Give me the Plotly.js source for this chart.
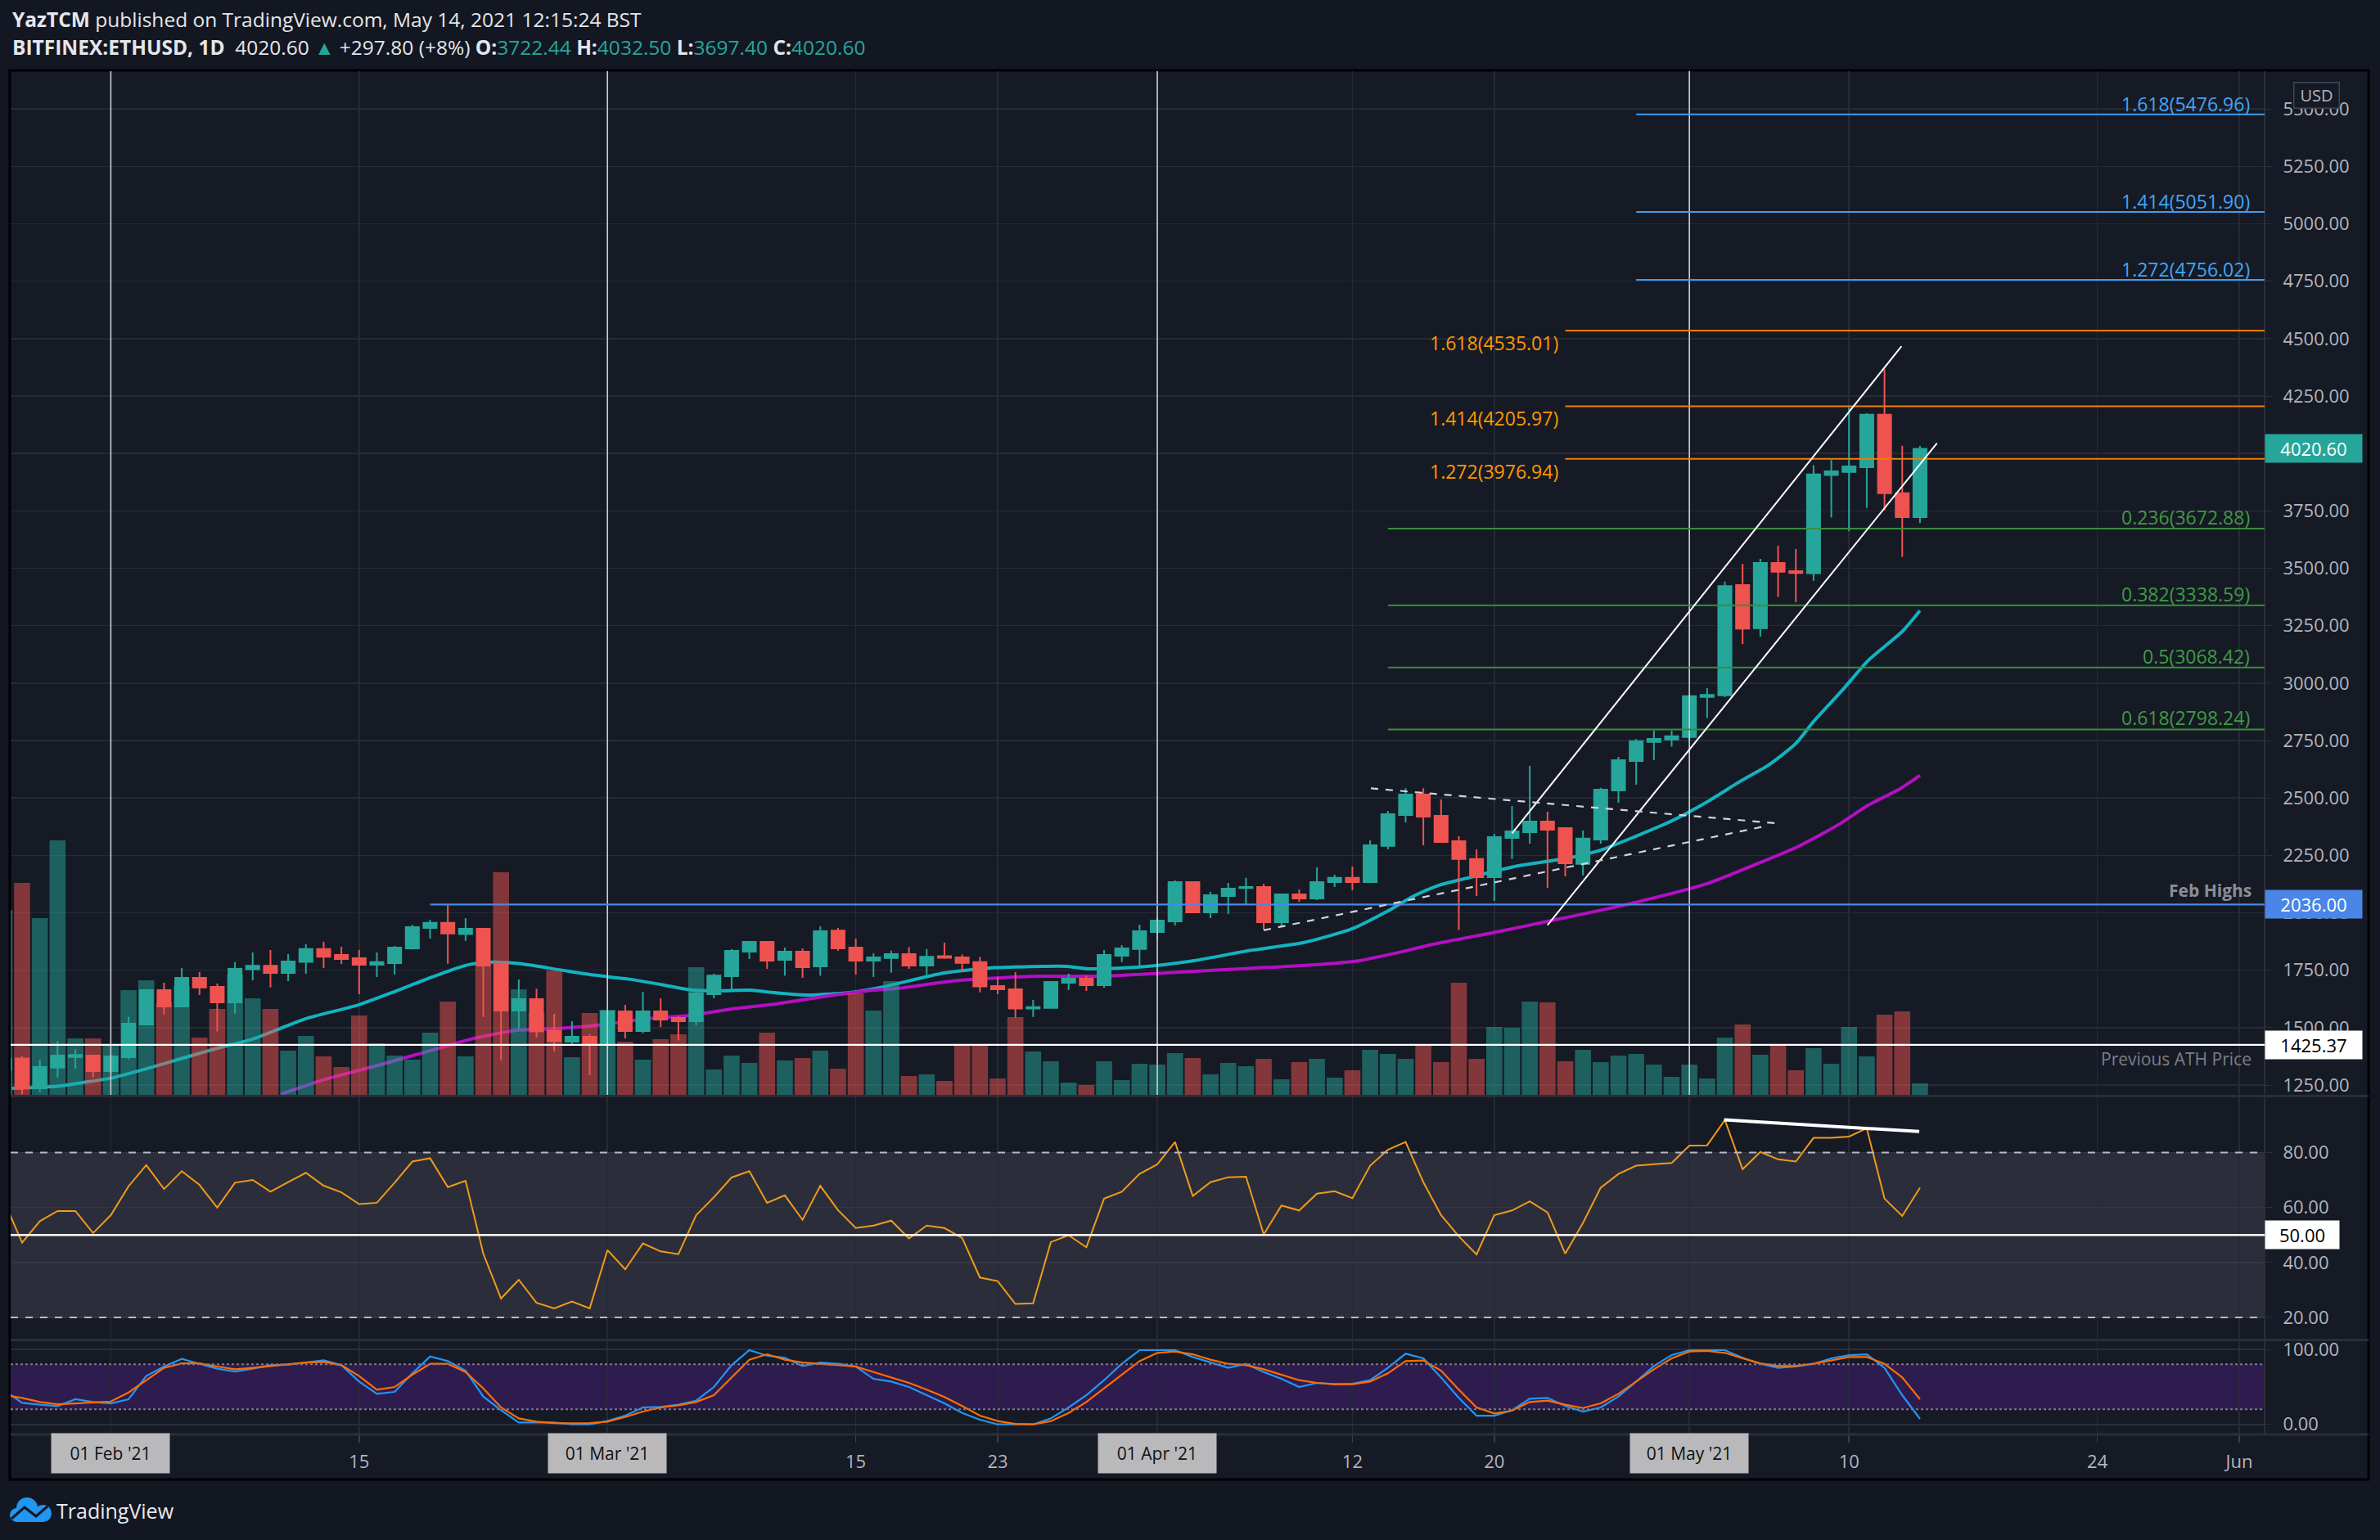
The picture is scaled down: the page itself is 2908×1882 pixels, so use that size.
<!DOCTYPE html>
<html><head><meta charset="utf-8">
<script src="https://cdn.plot.ly/plotly-3.0.1.min.js"></script>
<style>html,body{margin:0;padding:0;background:#131722;}#chart{width:2908px;height:1882px;}</style>
</head><body><div id="chart"></div>
<script>
// ---------------- DATA ----------------
// daily candles, first candle = 2021-01-26, one per day up to 2021-05-14
const firstDay = [2021, 0, 26];
const opens = [1316,1366,1236,1326,1372,1378,1311,1371,1514,1663,1592,1717,1678,1610,1754,1769,1738,1786,1842,1817,1802,1774,1781,1845,1934,1956,
1907,1931,1774,1574,1624,1485,1439,1460,1428,1571,1485,1571,1542,1528,1646,1724,1831,1874,1795,1831,1767,1923,1849,1792,1803,
1820,1770,1811,1806,1785,1681,1667,1583,1586,1695,1713,1685,1813,1842,1916,1963,2134,2002,2073,2108,2112,1959,2080,2062,2134,2152,2134,2291,2426,2515,2422,
2312,2234,2155,2326,2351,2397,2369,2213,2319,2533,2661,2744,2755,2765,2940,2947,3427,3239,3523,3488,3479,3906,3920,3940,4169,3827,3722.44];
const highs = [1380,1375,1360,1441,1406,1382,1380,1548,1667,1695,1760,1742,1692,1785,1827,1838,1820,1863,1874,1852,1838,1827,1856,1948,1970,2036,
1977,1934,1779,1710,1670,1560,1528,1471,1575,1599,1656,1628,1549,1670,1735,1842,1878,1877,1849,1845,1941,1934,1888,1824,1835,
1850,1842,1870,1818,1809,1720,1742,1621,1703,1735,1727,1838,1859,1948,1981,2141,2137,2091,2130,2152,2127,2084,2102,2198,2166,2201,2315,2444,2543,2543,2494,
2333,2276,2344,2465,2640,2440,2372,2358,2544,2679,2757,2794,2794,2950,2978,3442,3520,3541,3598,3584,3949,3971,4200,4175,4367,4034,4032.50];
const lows = [1255,1210,1220,1283,1322,1283,1300,1362,1510,1557,1589,1642,1483,1561,1706,1675,1703,1735,1760,1777,1646,1720,1731,1840,1888,1778,
1878,1547,1358,1497,1458,1397,1429,1293,1414,1453,1475,1503,1444,1511,1628,1667,1799,1756,1727,1717,1727,1834,1731,1720,1739,
1756,1731,1800,1743,1654,1646,1543,1547,1583,1663,1660,1674,1785,1770,1884,1945,1998,1977,1995,2038,1927,1945,2048,2055,2112,2098,2130,2276,2394,2294,2305,
1925,2073,2052,2234,2301,2109,2159,2162,2301,2479,2558,2665,2723,2748,2848,2940,3170,3203,3375,3353,3446,3721,3661,3764,3752,3550,3697.40];
const closes = [1366,1236,1328,1378,1381,1311,1375,1517,1663,1592,1717,1675,1610,1756,1769,1738,1788,1842,1809,1799,1774,1785,1849,1938,1956,1910,
1931,1770,1574,1624,1483,1442,1460,1428,1571,1485,1571,1535,1528,1649,1727,1834,1874,1792,1831,1763,1920,1845,1792,1806,1820,
1770,1809,1804,1782,1679,1667,1583,1589,1699,1713,1685,1817,1845,1920,1966,2134,2002,2077,2105,2112,1959,2080,2062,2134,2152,2134,2294,2429,2515,2419,2308,
2234,2155,2330,2355,2397,2362,2216,2323,2536,2665,2747,2757,2769,2943,2949,3423,3237,3523,3485,3480,3909,3922,3944,4169,3827,3722.44,4020.60];
const volumes = [226,259,216,311,69,69,62,128,140,113,133,70,105,147,118,105,54,72,47,34,97,63,48,43,76,114,
47,160,272,129,100,152,46,100,104,65,43,68,74,156,31,48,39,76,42,45,54,32,124,103,139,
23,25,17,62,62,20,95,53,41,15,12,41,18,38,37,51,45,25,39,35,44,19,40,44,21,30,55,50,44,60,40,
137,44,83,82,114,113,41,55,40,48,50,37,22,37,20,70,86,49,60,30,57,38,83,47,98,102,14];
const rsi = [62,47.2,55.0,58.7,58.7,50.7,57.2,67.7,75.4,66.7,73.2,68.2,59.9,69.0,70.0,65.7,69.2,72.6,67.9,65.5,61.2,61.7,69.0,76.7,77.9,67.4,
69.7,43.2,26.9,33.7,25.3,23.3,25.8,23.3,44.5,37.5,46.9,44.0,43.0,57.2,63.7,70.9,73.2,61.7,64.4,55.5,67.9,59.0,52.5,53.4,55.2,
48.7,53.4,52.5,48.9,34.5,33.2,24.9,25.1,47.4,49.9,45.5,63.2,65.7,72.2,75.7,83.8,64.2,69.2,71.0,71.2,50.2,60.7,58.9,65.0,65.9,63.4,75.2,81.0,83.8,69.2,57.2,
49.5,42.9,57.2,58.9,62.2,58.2,43.2,54.4,67.2,72.2,75.2,75.7,76.2,82.5,82.6,91.8,73.9,80.2,77.5,76.7,85.3,85.3,85.8,88.8,63.2,56.9,67.2];
const stochK = [45,28.7,26.2,24.4,33.5,29.8,28.0,33.5,64.4,77.1,87.3,80.7,74.2,70.5,74.2,78.9,79.6,82.5,85.4,78.9,57.1,40.7,43.3,68.0,90.5,84.3,
71.6,37.1,18.9,2.6,2.6,2.6,0,0,4.4,11.6,22.6,23.3,26.2,31.6,49.8,78.9,98.9,91.6,88.7,77.8,82.5,80.7,77.1,60.7,57.1,
49.8,38.9,28.0,15.3,6.2,0,0,0,8,22.6,38.9,58.9,80.7,98.9,98.9,98.9,89.8,82.5,75.3,80.7,69.8,60.7,49.8,55.3,53.5,54.2,58.9,75.3,94.2,88.0,62.5,
35.3,11.6,11.6,18.9,34.2,35.3,24.4,17.1,22.6,37.1,57.1,77.8,92.3,98.9,98.9,98.9,88.7,80.7,75.3,77.1,80.7,88.0,92.3,93.4,75.3,38.9,7.3];
const stochD = [39,35.3,29.8,26.9,28.0,29.1,30.5,42.5,58.9,75.3,81.4,81.4,77.1,73.4,75.3,77.8,80.7,82.5,83.2,78.9,64.4,46.2,49.8,66.2,80.7,80.7,
69.8,48.0,22.6,8.0,3.6,1.8,1.5,1.8,3.6,9.8,17.1,22.6,25.5,29.8,38.9,62.5,86.2,93.4,86.2,82.5,80.7,78.9,77.1,69.8,62.5,
55.3,46.2,36.4,24.4,11.6,4.4,0.7,0,4.4,15.3,29.8,48.0,66.2,84.3,95.3,97.1,93.4,86.2,80.7,78.9,73.4,66.2,58.9,55.3,53.5,53.5,57.1,68.0,84.3,85.1,71.6,
46.2,22.6,14.6,18.2,29.8,31.6,26.2,21.8,28.0,40.7,57.1,73.4,88.0,97.1,97.8,95.3,88.0,81.4,77.8,77.8,80.7,85.1,89.8,89.8,80.7,62.5,33.5];

// moving averages (read at sample points)
const maFastDates = ['2021-01-26 10:00','2021-01-29','2021-01-30 12:00','2021-02-01','2021-02-03','2021-02-05','2021-02-07','2021-02-09','2021-02-10 14:00','2021-02-12','2021-02-15','2021-02-17','2021-02-19','2021-02-20 14:00','2021-02-21 07:00','2021-02-22 12:00','2021-02-24','2021-02-26 07:00','2021-02-28 05:00','2021-03-02 05:00','2021-03-04 05:00','2021-03-05 19:00','2021-03-07 12:00','2021-03-09','2021-03-10 14:00','2021-03-12 07:00','2021-03-14 18:00','2021-03-16 14:00','2021-03-19 22:00','2021-03-22 19:00','2021-03-26 22:00','2021-03-28 02:00','2021-03-31','2021-04-03 02:00','2021-04-06 05:00','2021-04-09 07:00','2021-04-12','2021-04-14','2021-04-15 11:00','2021-04-16 22:00','2021-04-18 10:00','2021-04-21 07:00','2021-04-24 05:00','2021-04-26 02:00','2021-04-28','2021-04-29 22:00','2021-05-02','2021-05-03 22:00','2021-05-05 10:00','2021-05-07','2021-05-08','2021-05-09 14:00','2021-05-11 02:00','2021-05-13','2021-05-14'];
const maFastVals = [1236,1245,1262,1280,1321,1366,1410,1450,1497,1539,1600,1657,1717,1761,1776,1785,1779,1752,1729,1711,1685,1663,1661,1663,1651,1642,1654,1678,1737,1761,1767,1756,1764,1792,1836,1871,1931,2008,2073,2121,2150,2204,2239,2275,2334,2397,2483,2575,2641,2737,2833,2966,3099,3225,3316];
const maSlowDates = ['2021-02-10 14:00','2021-02-12 22:00','2021-02-16 05:00','2021-02-19 16:00','2021-02-21 07:00','2021-02-23 19:00','2021-02-26 07:00','2021-02-28 17:00','2021-03-03 05:00','2021-03-05 17:00','2021-03-08 04:00','2021-03-10 14:00','2021-03-13 02:00','2021-03-15 14:00','2021-03-17 12:00','2021-03-20 17:00','2021-03-24 19:00','2021-03-28 23:00','2021-04-02 02:00','2021-04-06 05:00','2021-04-10 07:00','2021-04-12 10:00','2021-04-14 10:00','2021-04-16 12:00','2021-04-20 07:00','2021-04-23 05:00','2021-04-25 02:00','2021-04-28','2021-05-02','2021-05-04 17:00','2021-05-07 02:00','2021-05-09 12:00','2021-05-11','2021-05-12 22:00','2021-05-14'];
const maSlowVals = [1210,1271,1339,1414,1450,1488,1497,1513,1539,1554,1583,1604,1634,1660,1672,1705,1723,1725,1741,1758,1776,1792,1824,1862,1919,1966,1996,2046,2127,2210,2287,2388,2465,2542,2598];

// drawings
const blueFibRatios = ['1.618','1.414','1.272'];
const blueFibLevels = [5476.96,5051.90,4756.02];
const blueFibStart = '2021-04-28';
const orangeFibRatios = ['1.618','1.414','1.272'];
const orangeFibLevels = [4535.01,4205.97,3976.94];
const orangeFibStart = '2021-04-24';
const greenFibRatios = ['0.236','0.382','0.5','0.618'];
const greenFibLevels = [3672.88,3338.59,3068.42,2798.24];
const greenFibStart = '2021-04-14';
const febHigh = 2036.00, febHighStart = '2021-02-19';
const prevATH = 1425.37;
const lastPrice = 4020.60;
const monthLines = ['2021-02-01','2021-03-01','2021-04-01','2021-05-01'];
const monthLabels = ["01 Feb '21","01 Mar '21","01 Apr '21","01 May '21"];
const channelUpperX = ['2021-04-21','2021-05-12 23:00'], channelUpperY = [2346,4467];
const channelLowerX = ['2021-04-23','2021-05-14 23:00'], channelLowerY = [1946,4045];
const triUpperX = ['2021-04-13 01:00','2021-05-05 22:00'], triUpperY = [2542,2390];
const triLowerX = ['2021-04-07','2021-05-05 11:00'], triLowerY = [1924,2380];
const rsiDivX = ['2021-05-02 23:00','2021-05-13 23:00'], rsiDivY = [91.9,87.6];
const priceTicks = [1250,1500,1750,2000,2250,2500,2750,3000,3250,3500,3750,4000,4250,4500,4750,5000,5250,5500];
const dateTickVals = ['2021-02-01','2021-02-15','2021-03-01','2021-03-15','2021-03-23','2021-04-01','2021-04-12','2021-04-20','2021-05-01','2021-05-10','2021-05-24','2021-06-01'];
const dateTickText = ['','15','','15','23','','12','20','','10','24','Jun'];

// ---------------- BUILD ----------------
const dates = opens.map((_, i) => new Date(Date.UTC(firstDay[0], firstDay[1], firstDay[2] + i)).toISOString().slice(0, 10));
const UP = '#26a69a', DN = '#ef5350';
const L = 13, R = 2767, T = 87, B = 1753;
const px = x => (x - L) / (R - L);
const py = y => (B - y) / (B - T);
const xStart = '2021-01-26 08:27', xEnd = '2021-06-02 10:19';
const FONT = 'Open Sans, Noto Sans, sans-serif';

const traces = [
  {type:'scatter', mode:'lines', x:maFastDates, y:maFastVals, xaxis:'x', yaxis:'y', line:{color:'#12b3c0', width:4, shape:'spline', smoothing:0.6}, hoverinfo:'skip'},
  {type:'scatter', mode:'lines', x:maSlowDates, y:maSlowVals, xaxis:'x', yaxis:'y', line:{color:'#b30fc3', width:4, shape:'spline', smoothing:0.6}, hoverinfo:'skip'},
  {type:'bar', x:dates, y:volumes, xaxis:'x', yaxis:'y2',
   marker:{color:closes.map((c,i)=> c>=opens[i] ? 'rgba(38,166,154,0.5)' : 'rgba(239,83,80,0.5)'), line:{width:0}}, hoverinfo:'skip'},
  {type:'candlestick', x:dates, open:opens, high:highs, low:lows, close:closes, xaxis:'x', yaxis:'y3',
   increasing:{line:{color:UP, width:2}, fillcolor:UP}, decreasing:{line:{color:DN, width:2}, fillcolor:DN},
   whiskerwidth:0, hoverinfo:'skip'},
  {type:'scatter', mode:'lines', x:dates, y:rsi, xaxis:'x', yaxis:'y4', line:{color:'#f09a1b', width:2}, hoverinfo:'skip'},
  {type:'scatter', mode:'lines', x:dates, y:stochK, xaxis:'x', yaxis:'y5', line:{color:'#2196f3', width:2.2}, hoverinfo:'skip'},
  {type:'scatter', mode:'lines', x:dates, y:stochD, xaxis:'x', yaxis:'y5', line:{color:'#ff6d00', width:2.2}, hoverinfo:'skip'}
];

const shapes = [];
// chart frame
shapes.push({type:'rect', xref:'paper', yref:'paper', x0:px(12), x1:px(2894), y0:py(1808), y1:py(86), fillcolor:'#161a25', line:{color:'#000000', width:3}, layer:'below'});
// pane bands
shapes.push({type:'rect', xref:'paper', yref:'y4', x0:0, x1:1, y0:20, y1:80, fillcolor:'#2b2e3a', line:{width:0}, layer:'below'});
shapes.push({type:'rect', xref:'paper', yref:'y5', x0:0, x1:1, y0:20, y1:80, fillcolor:'#2e1c4e', line:{width:0}, layer:'below'});
// separators
[1339.5, 1637.5, 1753].forEach(y => shapes.push({type:'line', xref:'paper', yref:'paper', x0:0, x1:px(2894), y0:py(y), y1:py(y), line:{color:'#2a2e39', width:3}, layer:'above'}));
shapes.push({type:'line', xref:'paper', yref:'paper', x0:1, x1:1, y0:0, y1:1, line:{color:'#2a2e39', width:2}, layer:'above'});
// RSI levels
shapes.push({type:'line', xref:'paper', yref:'y4', x0:0, x1:1, y0:80, y1:80, line:{color:'#b8bbc4', width:2, dash:'dash'}, layer:'above'});
shapes.push({type:'line', xref:'paper', yref:'y4', x0:0, x1:1, y0:20, y1:20, line:{color:'#b8bbc4', width:2, dash:'dash'}, layer:'above'});
shapes.push({type:'line', xref:'paper', yref:'y4', x0:0, x1:1, y0:50, y1:50, line:{color:'#ffffff', width:2.5}, layer:'above'});
shapes.push({type:'line', xref:'x', yref:'y4', x0:rsiDivX[0], x1:rsiDivX[1], y0:rsiDivY[0], y1:rsiDivY[1], line:{color:'#ffffff', width:4}, layer:'above'});
// Stoch levels
shapes.push({type:'line', xref:'paper', yref:'y5', x0:0, x1:1, y0:80, y1:80, line:{color:'#7f7891', width:2, dash:'dot'}, layer:'above'});
shapes.push({type:'line', xref:'paper', yref:'y5', x0:0, x1:1, y0:20, y1:20, line:{color:'#7f7891', width:2, dash:'dot'}, layer:'above'});
// month vertical lines (main pane)
monthLines.forEach(d => shapes.push({type:'line', xref:'x', yref:'paper', x0:d, x1:d, y0:py(1338), y1:1, line:{color:'#c9ccd3', width:1.6}, layer:'above'}));
// fib lines
blueFibLevels.forEach(v => shapes.push({type:'line', xref:'x', yref:'y', x0:blueFibStart, x1:xEnd, y0:v, y1:v, line:{color:'#3d9ff0', width:2}, layer:'above'}));
orangeFibLevels.forEach(v => shapes.push({type:'line', xref:'x', yref:'y', x0:orangeFibStart, x1:xEnd, y0:v, y1:v, line:{color:'#f57c00', width:2}, layer:'above'}));
greenFibLevels.forEach(v => shapes.push({type:'line', xref:'x', yref:'y', x0:greenFibStart, x1:xEnd, y0:v, y1:v, line:{color:'#388e3c', width:2}, layer:'above'}));
shapes.push({type:'line', xref:'x', yref:'y', x0:febHighStart, x1:xEnd, y0:febHigh, y1:febHigh, line:{color:'#4a86e8', width:2.2}, layer:'above'});
shapes.push({type:'line', xref:'paper', yref:'y', x0:0, x1:1, y0:prevATH, y1:prevATH, line:{color:'#ffffff', width:2.2}, layer:'above'});
// trend lines
shapes.push({type:'line', xref:'x', yref:'y', x0:channelUpperX[0], x1:channelUpperX[1], y0:channelUpperY[0], y1:channelUpperY[1], line:{color:'#ffffff', width:2}, layer:'above'});
shapes.push({type:'line', xref:'x', yref:'y', x0:channelLowerX[0], x1:channelLowerX[1], y0:channelLowerY[0], y1:channelLowerY[1], line:{color:'#ffffff', width:2}, layer:'above'});
shapes.push({type:'line', xref:'x', yref:'y', x0:triUpperX[0], x1:triUpperX[1], y0:triUpperY[0], y1:triUpperY[1], line:{color:'#d1d4dc', width:2.2, dash:'dash'}, layer:'above'});
shapes.push({type:'line', xref:'x', yref:'y', x0:triLowerX[0], x1:triLowerX[1], y0:triLowerY[0], y1:triLowerY[1], line:{color:'#d1d4dc', width:2.2, dash:'dash'}, layer:'above'});
// TradingView logo cloud
const logoBlue = '#2196f3';
shapes.push({type:'circle', xref:'paper', yref:'paper', x0:px(20), x1:px(46), y0:py(1856), y1:py(1830), fillcolor:logoBlue, line:{width:0}, layer:'above'});
shapes.push({type:'circle', xref:'paper', yref:'paper', x0:px(42), x1:px(63), y0:py(1860), y1:py(1839), fillcolor:logoBlue, line:{width:0}, layer:'above'});
shapes.push({type:'circle', xref:'paper', yref:'paper', x0:px(12), x1:px(29), y0:py(1860), y1:py(1843), fillcolor:logoBlue, line:{width:0}, layer:'above'});
shapes.push({type:'rect', xref:'paper', yref:'paper', x0:px(20), x1:px(53), y0:py(1860), y1:py(1848), fillcolor:logoBlue, line:{width:0}, layer:'above'});
shapes.push({type:'path', xref:'paper', yref:'paper', path:`M ${px(14)} ${py(1856)} L ${px(30)} ${py(1842)} L ${px(44)} ${py(1853)} L ${px(58)} ${py(1841)}`, line:{color:'#131722', width:3}, layer:'above'});

const annotations = [];
const ann = o => annotations.push(Object.assign({showarrow:false, font:{family:FONT, size:21, color:'#b2b5be'}}, o));
// header
ann({xref:'paper', yref:'paper', x:0, y:py(24), xanchor:'left', yanchor:'middle', font:{family:FONT, size:24.5, color:'#e4e6ea'},
  text:'<b>YazTCM</b> published on TradingView.com, May 14, 2021 12:15:24 BST'});
const g = s => `<span style="color:${UP}">${s}</span>`;
ann({xref:'paper', yref:'paper', x:0, y:py(58), xanchor:'left', yanchor:'middle', font:{family:FONT, size:24.5, color:'#e4e6ea'},
  text:`<b>BITFINEX:ETHUSD, 1D</b>\u00a0\u00a04020.60 ${g('▲')} +297.80 (+8%) <b>O:</b>${g('3722.44')} <b>H:</b>${g('4032.50')} <b>L:</b>${g('3697.40')} <b>C:</b>${g('4020.60')}`});
// fib labels
blueFibLevels.forEach((v,i) => ann({xref:'paper', yref:'y', x:px(2751), y:v, xanchor:'right', yanchor:'middle', yshift:13, text:`${blueFibRatios[i]}(${v.toFixed(2)})`, font:{family:FONT, size:23, color:'#42a5f5'}}));
orangeFibLevels.forEach((v,i) => ann({xref:'x', yref:'y', x:orangeFibStart, y:v, xanchor:'right', yanchor:'middle', xshift:-6, yshift:-15, text:`${orangeFibRatios[i]}(${v.toFixed(2)})`, font:{family:FONT, size:23, color:'#ff9800'}}));
greenFibLevels.forEach((v,i) => ann({xref:'paper', yref:'y', x:px(2751), y:v, xanchor:'right', yanchor:'middle', yshift:14, text:`${greenFibRatios[i]}(${v.toFixed(2)})`, font:{family:FONT, size:23, color:'#3f9a43'}}));
ann({xref:'paper', yref:'y', x:px(2753), y:febHigh, xanchor:'right', yanchor:'middle', yshift:17, text:'<b>Feb Highs</b>', font:{family:FONT, size:21, color:'#8b8e96'}});
ann({xref:'paper', yref:'y', x:px(2753), y:prevATH, xanchor:'right', yanchor:'middle', yshift:-17, text:'Previous ATH Price', font:{family:FONT, size:21, color:'#7c7f88'}});
// axis tags
const tag = (yref, y, text, bg, fg, w) => ann({xref:'paper', yref:yref, x:1, y:y, xanchor:'left', yanchor:'middle', text:text, bgcolor:bg, borderpad:3, width:w, height:28, align:'center', font:{family:FONT, size:22, color:fg}});
tag('y', lastPrice, lastPrice.toFixed(2), UP, '#ffffff', 112);
tag('y', febHigh, febHigh.toFixed(2), '#4a86e8', '#ffffff', 112);
tag('y', prevATH, prevATH.toFixed(2), '#ffffff', '#000000', 112);
tag('y4', 50, '50.00', '#ffffff', '#000000', 84);
ann({xref:'paper', yref:'paper', x:px(2830), y:py(117), xanchor:'center', yanchor:'middle', text:'USD', bgcolor:'#161a25', bordercolor:'#434651', borderwidth:1.5, borderpad:2, width:50, height:26, font:{family:FONT, size:20, color:'#b2b5be'}});
// month date boxes
monthLines.forEach((d,i) => ann({xref:'x', yref:'paper', x:d, y:py(1776), xanchor:'center', yanchor:'middle', text:monthLabels[i], bgcolor:'#b9b9bc', borderpad:9, width:126, height:30, font:{family:FONT, size:21, color:'#111111'}}));
// logo text
ann({xref:'paper', yref:'paper', x:px(67), y:py(1846), xanchor:'left', yanchor:'middle', text:'TradingView', font:{family:FONT, size:25, color:'#e8e9ec'}});

const gridC = '#262a36';
const layout = {
  width:2908, height:1882,
  paper_bgcolor:'#131722', plot_bgcolor:'rgba(0,0,0,0)',
  margin:{l:L, r:2908-R, t:T, b:1882-B, pad:0},
  showlegend:false, hovermode:false,
  font:{family:FONT, size:22, color:'#b2b5be'},
  bargap:0.095, boxgap:0.26, boxgroupgap:0,
  xaxis:{type:'date', range:[xStart, xEnd], anchor:'y5', domain:[0,1], rangeslider:{visible:false},
    tickmode:'array', tickvals:dateTickVals, ticktext:dateTickText, showgrid:true, gridcolor:gridC, gridwidth:1.5,
    ticks:'outside', ticklen:9, tickwidth:1.5, tickcolor:'#3a3e4a', ticklabelstandoff:5,
    tickfont:{family:FONT, size:22, color:'#b2b5be'}, showline:false, zeroline:false, fixedrange:true},
  yaxis:{domain:[py(1338), 1], range:[1207.3, 5664.7], side:'right', anchor:'x',
    tickmode:'array', tickvals:priceTicks, ticktext:priceTicks.map(v=>v.toFixed(2)),
    showgrid:true, gridcolor:gridC, gridwidth:1.5, ticks:'outside', ticklen:9, tickcolor:'#2a2e39', ticklabelstandoff:8,
    tickfont:{family:FONT, size:22, color:'#b2b5be'}, showline:false, zeroline:false},
  yaxis2:{overlaying:'y', anchor:'x', range:[0, 1251], visible:false, showgrid:false, zeroline:false},
  yaxis3:{overlaying:'y', anchor:'x', range:[1207.3, 5664.7], visible:false, showgrid:false, zeroline:false},
  yaxis4:{domain:[py(1636), py(1341)], range:[12.26, 100.06], side:'right', anchor:'x',
    tickmode:'array', tickvals:[20,40,60,80], ticktext:['20.00','40.00','60.00','80.00'],
    showgrid:true, gridcolor:'#343743', gridwidth:1.5, ticks:'outside', ticklen:9, tickcolor:'#2a2e39', ticklabelstandoff:8,
    tickfont:{family:FONT, size:22, color:'#b2b5be'}, showline:false, zeroline:false},
  yaxis5:{domain:[0, py(1639)], range:[-13.4, 110.9], side:'right', anchor:'x',
    tickmode:'array', tickvals:[0,100], ticktext:['0.00','100.00'],
    showgrid:true, gridcolor:'#2a2e39', gridwidth:2, ticks:'outside', ticklen:9, tickcolor:'#2a2e39', ticklabelstandoff:8,
    tickfont:{family:FONT, size:22, color:'#b2b5be'}, showline:false, zeroline:false},
  shapes:shapes, annotations:annotations
};
Plotly.newPlot('chart', traces, layout, {staticPlot:true, displayModeBar:false});
</script></body></html>
